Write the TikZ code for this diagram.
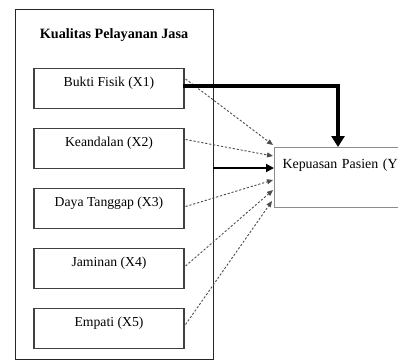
\documentclass[tikz,border=0pt]{standalone}
\usepackage{fontspec}
\setmainfont{Liberation Serif}
\usetikzlibrary{arrows.meta,calc}
\begin{document}
\begin{tikzpicture}[x=1pt,y=-1pt,
  varbox/.style={draw=black!75,line width=1.1pt,minimum width=150pt,inner xsep=0pt,inner ysep=3pt,
    text height=15pt,text depth=19pt,anchor=north,font=\fontsize{13.7}{15}\selectfont},
  outerbox/.style={draw=black!85,line width=0.9pt,minimum width=198pt,minimum height=350pt,inner sep=0pt},
  ybox/.style={draw=black!45,line width=1.1pt,anchor=north west,text width=130pt,align=left,inner xsep=8pt,
    inner ysep=3pt,text height=18pt,text depth=36pt,font=\fontsize{13.9}{15}\selectfont},
  dasharrow/.style={draw=black!70,line width=0.9pt,dash pattern=on 2.2pt off 1.8pt,-{Triangle[length=6pt,width=5pt]}},
  solidarrow/.style={draw=black,line width=1.8pt,-{Triangle[length=8pt,width=8pt]}},
  thickarrow/.style={draw=black,line width=3.6pt,-{Triangle[length=11pt,width=13pt]}}]
\useasboundingbox (0,0) rectangle (398,361);
\clip (0,0) rectangle (398,361);
\node[outerbox] (outer) at (114,184) {};
\node[font=\bfseries\fontsize{14.2}{16}\selectfont] (title) at (114,35) {Kualitas Pelayanan Jasa};
\node[varbox] (b1) at (109,68) {Bukti Fisik (X1)};
\node[varbox] (b2) at (109,127.5) {Keandalan (X2)};
\node[varbox] (b3) at (109,187.5) {Daya Tanggap (X3)};
\node[varbox] (b4) at (109,248) {Jaminan (X4)};
\node[varbox] (b5) at (109,307.5) {Empati (X5)};
\node[ybox] (y) at (274,147) {Kepuasan Pasien (Y)};
\coordinate (t1) at ($(y.north west)+(-1,-2)$);
\coordinate (t2) at ($(y.north west)+(-1,9)$);
\coordinate (t3) at ($(y.north west)+(0,21)$);
\coordinate (t4) at ($(y.north west)+(-1,33)$);
\coordinate (t5) at ($(y.north west)+(-1,43)$);
\coordinate (t6) at ($(y.north west)+(-2,54)$);
\draw[dasharrow] ($(b1.north east)+(1,11)$) -- (t1);
\draw[dasharrow] ($(b2.north east)+(1,12)$) -- (t2);
\draw[dasharrow] ($(b3.north east)+(1,19)$) -- (t4);
\draw[dasharrow] ($(b4.north east)+(1,18)$) -- (t5);
\draw[dasharrow] ($(b5.north east)+(1,17)$) -- (t6);
\draw[solidarrow] (outer.east |- t3) -- (t3);
\draw[thickarrow] ($(b1.north east)+(-2,18)$) -| ($(y.north west)+(64,0)$);
\end{tikzpicture}
\end{document}
